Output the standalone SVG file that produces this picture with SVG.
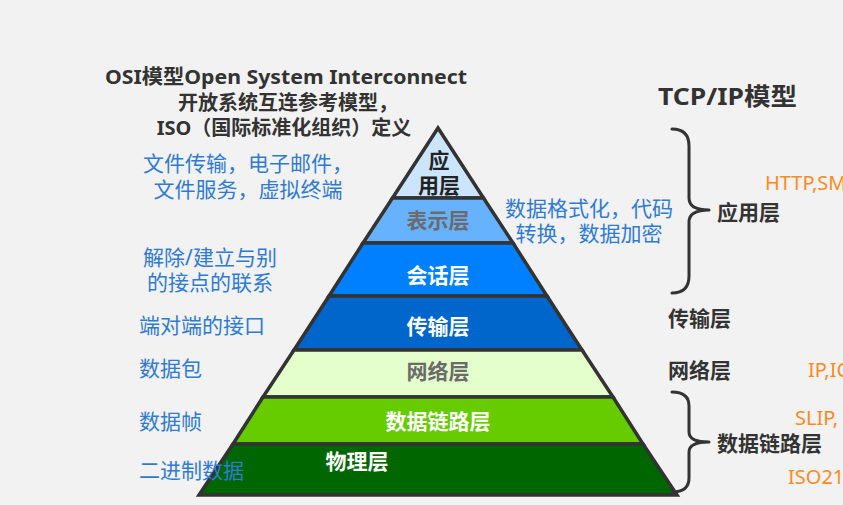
<svg xmlns="http://www.w3.org/2000/svg" width="843" height="505" viewBox="0 0 843 505">
<style>
text{font-family:"Noto Sans","Noto Sans CJK SC",sans-serif;}
.layer{stroke:#333;stroke-width:3.5;stroke-linejoin:miter;}
.lt{font-size:21px;font-weight:bold;text-anchor:middle;}
.w{fill:#fff;}
.g{fill:#6b6b6b;}
.k{fill:#222;}
.blue{font-size:21px;fill:#2f7bd3;}
.hd{font-size:20px;font-weight:bold;fill:#333;text-anchor:middle;}
.rt{font-size:21px;font-weight:bold;fill:#333;}
.or{font-size:20px;fill:#ff8a1c;}
.brace{fill:none;stroke:#333;stroke-width:3;stroke-linecap:round;stroke-linejoin:round;}
</style>
<rect width="843" height="505" fill="#f2f2f2"/>
<g id="title">
<text class="hd" x="286" y="84" textLength="362" lengthAdjust="spacingAndGlyphs">OSI模型Open System Interconnect</text>
<text class="hd" x="288" y="110">开放系统互连参考模型，</text>
<text class="hd" x="284" y="135">ISO（国际标准化组织）定义</text>
</g>
<g id="application-layer">
<polygon class="layer" points="438,128 392.5,198 483.5,198" fill="#cce5ff"/>
<text class="lt k" x="439" y="168">应</text>
<text class="lt k" x="439" y="193">用层</text>
</g>
<g id="presentation-layer">
<polygon class="layer" points="392.5,198 483.5,198 513,243 363,243" fill="#66b2ff"/>
<text class="lt g" x="438" y="228">表示层</text>
</g>
<g id="session-layer">
<polygon class="layer" points="363,243 513,243 547,296 329,296" fill="#0080ff"/>
<text class="lt w" x="438" y="283">会话层</text>
</g>
<g id="transport-layer">
<polygon class="layer" points="329,296 547,296 582,350 294,350" fill="#0066cc"/>
<text class="lt w" x="438" y="334">传输层</text>
</g>
<g id="network-layer">
<polygon class="layer" points="294,350 582,350 613,397 263,397" fill="#e5ffcc"/>
<text class="lt g" x="438" y="379">网络层</text>
</g>
<g id="datalink-layer">
<polygon class="layer" points="263,397 613,397 643,444 233,444" fill="#66cc00"/>
<text class="lt w" x="438" y="429">数据链路层</text>
</g>
<g id="physical-layer">
<polygon class="layer" points="233,444 643,444 677,495 199,495" fill="#006600"/>
<text class="lt w" x="357" y="469">物理层</text>
</g>
<g id="left-notes">
<text class="blue" x="248" y="171" text-anchor="middle">文件传输，电子邮件，</text>
<text class="blue" x="248" y="197" text-anchor="middle">文件服务，虚拟终端</text>
<text class="blue" x="210" y="265" text-anchor="middle">解除/建立与别</text>
<text class="blue" x="210" y="290" text-anchor="middle">的接点的联系</text>
<text class="blue" x="139" y="333">端对端的接口</text>
<text class="blue" x="139" y="376">数据包</text>
<text class="blue" x="139" y="429">数据帧</text>
<text class="blue" x="139" y="478">二进制数据</text>
<text class="blue" x="589" y="216" text-anchor="middle">数据格式化，代码</text>
<text class="blue" x="589" y="241" text-anchor="middle">转换，数据加密</text>
</g>
<g id="tcpip">
<text x="658" y="105" font-size="24" font-weight="bold" fill="#333" textLength="139" lengthAdjust="spacingAndGlyphs">TCP/IP模型</text>
<text class="rt" x="717" y="220">应用层</text>
<text class="rt" x="668" y="326">传输层</text>
<text class="rt" x="668" y="378">网络层</text>
<text class="rt" x="717" y="451">数据链路层</text>
<text class="or" x="765" y="190">HTTP,SM</text>
<text class="or" x="808" y="377">IP,IC</text>
<text class="or" x="795" y="425">SLIP,</text>
<text class="or" x="788" y="484">ISO21</text>
</g>
<g id="connectors">
<path class="brace" d="M672,129 Q689,129 689,146 L689,198 Q689,210 709,210 Q689,210 689,222 L689,276 Q689,293 672,293"/>
<path class="brace" d="M672,392 Q689,392 689,406 L689,432 Q689,442 709,442 Q689,442 689,452 L689,478 Q689,492 672,492"/>
</g>
</svg>
